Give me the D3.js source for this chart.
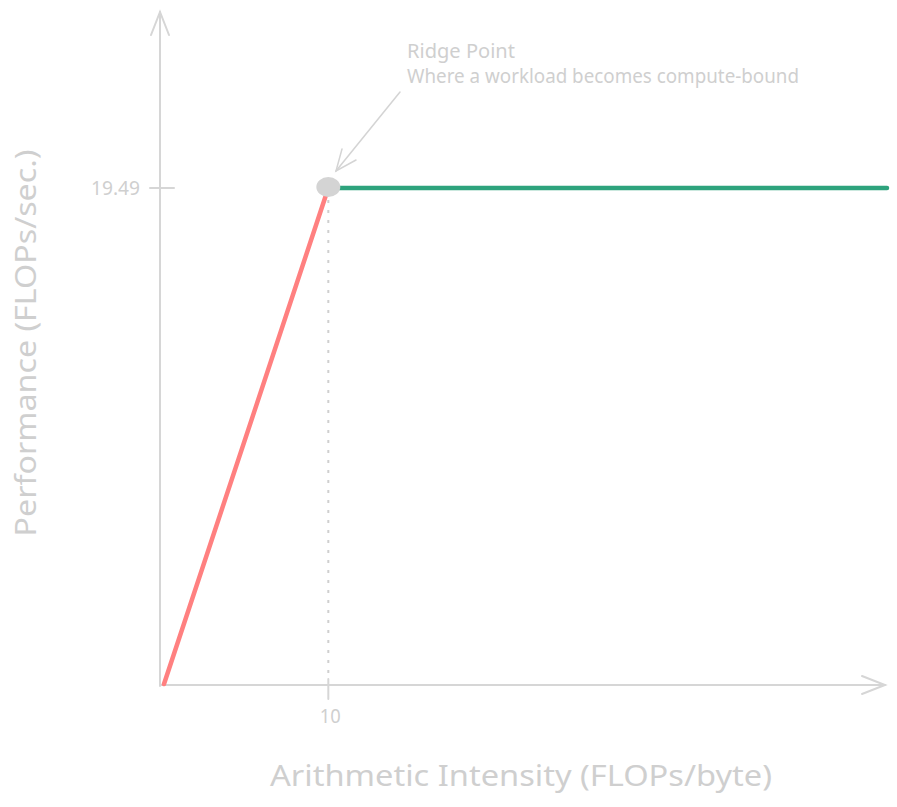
<!DOCTYPE html>
<html>
<head>
<meta charset="utf-8">
<script src="https://cdn.jsdelivr.net/npm/d3@7"></script>
<style>
  html, body { margin: 0; padding: 0; background: #fff; }
  text { font-family: "Noto Sans", "DejaVu Sans", sans-serif; fill: #cfcfcf; }
</style>
</head>
<body>
<div id="chart"></div>
<script>
// roofline values
const ridgeIntensity = 10;
const peakPerf = 19.49;
const maxIntensity = 44;
const memoryBound = [[0, 0], [ridgeIntensity, peakPerf]];
const computeBound = [[ridgeIntensity, peakPerf], [maxIntensity, peakPerf]];
const xTicks = [10];
const yTicks = [19.49];
const annotation = ["Ridge Point", "Where a workload becomes compute-bound"];

const width = 897, height = 807;
const axisColor = "#d6d6d6";

const svg = d3.select("#chart").append("svg")
  .attr("width", width).attr("height", height);

const x = d3.scaleLinear().domain([0, maxIntensity]).range([164, 887]);
const y = d3.scaleLinear().domain([0, peakPerf]).range([684, 188]);

// axes with arrow heads
const ax = svg.append("g").attr("stroke", axisColor).attr("stroke-width", 2)
  .attr("fill", "none").attr("stroke-linecap", "round");
ax.append("path").attr("d", "M160,686 L160,12");
ax.append("path").attr("d", "M151,35 L160,12 L169,35");
ax.append("path").attr("d", "M160,685 L885,685");
ax.append("path").attr("d", "M862,676 L885,685 L862,694");

// ticks
yTicks.forEach(t => {
  ax.append("line").attr("x1", 150).attr("x2", 174).attr("y1", y(t)).attr("y2", y(t));
  svg.append("text").attr("x", 140).attr("y", y(t)).attr("dy", "0.35em")
    .attr("text-anchor", "end").style("font-size", "19px")
    .attr("textLength", 49).attr("lengthAdjust", "spacingAndGlyphs")
    .text(t.toFixed(2));
});
xTicks.forEach(t => {
  ax.append("line").attr("x1", x(t)).attr("x2", x(t)).attr("y1", 679).attr("y2", 699);
  svg.append("text").attr("x", x(t) + 2).attr("y", 716).attr("dy", "0.35em")
    .attr("text-anchor", "middle").style("font-size", "19px")
    .attr("textLength", 21).attr("lengthAdjust", "spacingAndGlyphs")
    .text(t);
});

// dotted guide from ridge to x axis
svg.append("line")
  .attr("x1", x(ridgeIntensity)).attr("x2", x(ridgeIntensity))
  .attr("y1", y(peakPerf) + 12).attr("y2", 680)
  .attr("stroke", "#cfcfcf").attr("stroke-width", 2)
  .attr("stroke-dasharray", "3,7");

const line = d3.line().x(d => x(d[0])).y(d => y(d[1]));

svg.append("path").datum(memoryBound)
  .attr("d", line).attr("fill", "none")
  .attr("stroke", "#ff8080").attr("stroke-width", 4.5).attr("stroke-linecap", "round");

svg.append("path").datum(computeBound)
  .attr("d", line).attr("fill", "none")
  .attr("stroke", "#2ea37d").attr("stroke-width", 4.5).attr("stroke-linecap", "round");

// ridge point marker
svg.append("ellipse")
  .attr("cx", x(ridgeIntensity)).attr("cy", y(peakPerf) - 1)
  .attr("rx", 12).attr("ry", 10).attr("fill", "#d4d4d4");

// annotation arrow
const ann = svg.append("g").attr("stroke", "#d4d4d4").attr("stroke-width", 1.5)
  .attr("fill", "none").attr("stroke-linecap", "round");
ann.append("path").attr("d", "M400,92 L336,171");
ann.append("path").attr("d", "M342,149 L336,171 L356,160");

const annLens = [108, 392];
const annText = svg.append("text").style("font-size", "20px");
annotation.forEach((s, i) => {
  annText.append("tspan").attr("x", 407).attr("y", 58 + i * 25)
    .attr("textLength", annLens[i]).attr("lengthAdjust", "spacingAndGlyphs")
    .text(s);
});

// axis titles
svg.append("text").attr("x", 521).attr("y", 776).attr("dy", "0.35em")
  .attr("text-anchor", "middle").style("font-size", "29px")
  .attr("textLength", 502).attr("lengthAdjust", "spacingAndGlyphs")
  .text("Arithmetic Intensity (FLOPs/byte)");

svg.append("text")
  .attr("transform", "translate(26,343) rotate(-90)")
  .attr("dy", "0.35em").attr("text-anchor", "middle").style("font-size", "29px")
  .attr("textLength", 387).attr("lengthAdjust", "spacingAndGlyphs")
  .text("Performance (FLOPs/sec.)");
</script>
</body>
</html>
